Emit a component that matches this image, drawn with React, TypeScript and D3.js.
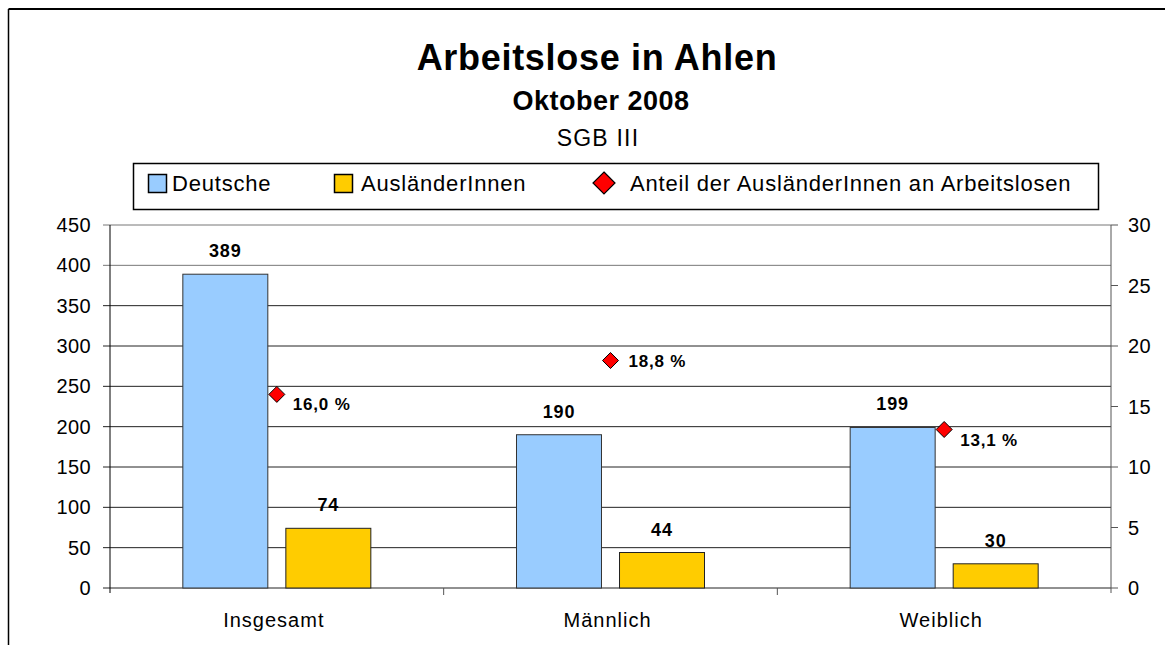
import React from "react";
import * as d3 from "d3";

const categories = ["Insgesamt", "Männlich", "Weiblich"];
const seriesNames = ["Deutsche", "AusländerInnen"];
const deutsche = [389, 190, 199];
const auslaender = [74, 44, 30];
const anteil = [16.0, 18.8, 13.1];
const leftTicks = [0, 50, 100, 150, 200, 250, 300, 350, 400, 450];
const rightTicks = [0, 5, 10, 15, 20, 25, 30];

// manual label nudges for the percentage labels (dx, dy)
const pctOffsets = [[16, 10], [18, 0], [16, 11]];

const W = 1165;
const H = 645;
const FONT = "'Liberation Sans', Arial, sans-serif";
const colors = ["#99CCFF", "#FFCC00"];

const App = () => {
  const plot = { left: 110, right: 1111, top: 225, bottom: 588 };

  const x0 = d3.scaleBand().domain(categories).range([plot.left, plot.right]);
  const x1 = d3
    .scaleBand()
    .domain(seriesNames)
    .range([0, x0.bandwidth()])
    .paddingInner(0.175)
    .paddingOuter(0.707);
  const yL = d3.scaleLinear().domain([0, 450]).range([plot.bottom, plot.top]);
  const yR = d3.scaleLinear().domain([0, 30]).range([plot.bottom, plot.top]);

  const series = [deutsche, auslaender];
  const fmtPct = (v) => d3.format(".1f")(v).replace(".", ",") + " %";

  const diamond = (cx, cy, r) =>
    `M${cx},${cy - r}L${cx + r},${cy}L${cx},${cy + r}L${cx - r},${cy}Z`;

  return (
    <svg
      width={W}
      height={H}
      style={{ position: "absolute", left: 0, top: 0, background: "#fff" }}
      fontFamily={FONT}
    >
      {/* outer chart frame */}
      <line x1={8.5} y1={9} x2={W} y2={9} stroke="#000" strokeWidth={2} />
      <line x1={8.5} y1={9} x2={8.5} y2={H} stroke="#000" strokeWidth={1.5} />

      {/* titles */}
      <text x={597} y={70} textAnchor="middle" fontSize={36} fontWeight="bold" letterSpacing={0.7}>
        Arbeitslose in Ahlen
      </text>
      <text x={601} y={110} textAnchor="middle" fontSize={27} fontWeight="bold" letterSpacing={0.5}>
        Oktober 2008
      </text>
      <text x={598} y={146} textAnchor="middle" fontSize={23} letterSpacing={1.2}>
        SGB III
      </text>

      {/* legend */}
      <rect x={133.5} y={163.5} width={965} height={46} fill="#fff" stroke="#000" strokeWidth={1.5} />
      <rect x={148.5} y={174.5} width={18} height={18} fill={colors[0]} stroke="#000" strokeWidth={1.5} />
      <text x={172} y={191} fontSize={22} letterSpacing={0.8}>Deutsche</text>
      <rect x={334.5} y={174.5} width={18} height={18} fill={colors[1]} stroke="#000" strokeWidth={1.5} />
      <text x={361} y={191} fontSize={22} letterSpacing={0.8}>AusländerInnen</text>
      <path d={diamond(604, 183, 11)} fill="#FF0000" stroke="#000" strokeWidth={1.2} />
      <text x={630} y={191} fontSize={22} letterSpacing={0.8}>Anteil der AusländerInnen an Arbeitslosen</text>

      {/* gridlines + left axis */}
      {leftTicks.map((t) => (
        <g key={"l" + t}>
          <line x1={plot.left - 7} x2={plot.right} y1={yL(t)} y2={yL(t)} stroke={t >= 400 ? "#777" : "#222"} strokeWidth={1} />
          <text x={91} y={yL(t) + 7} textAnchor="end" fontSize={20} letterSpacing={0.4}>
            {t}
          </text>
        </g>
      ))}
      <line x1={plot.left} x2={plot.left} y1={plot.top} y2={plot.bottom + 5} stroke="#000" />

      {/* right axis */}
      <line x1={plot.right} x2={plot.right} y1={plot.top} y2={plot.bottom + 5} stroke="#555" />
      {rightTicks.map((t) => (
        <g key={"r" + t}>
          <line x1={plot.right} x2={plot.right + 7} y1={yR(t)} y2={yR(t)} stroke="#555" />
          <text x={1128} y={yR(t) + 7} fontSize={20} letterSpacing={0.4}>
            {t}
          </text>
        </g>
      ))}

      {/* category ticks + labels */}
      {categories.map((c, i) => (
        <g key={c}>
          {i > 0 && (
            <line x1={x0(c)} x2={x0(c)} y1={plot.bottom} y2={plot.bottom + 7} stroke="#555" />
          )}
          <text x={x0(c) + x0.bandwidth() / 2 - 3} y={627} textAnchor="middle" fontSize={20} letterSpacing={1}>
            {c}
          </text>
        </g>
      ))}

      {/* bars */}
      {categories.map((c, i) =>
        seriesNames.map((s, j) => {
          const v = series[j][i];
          const bx = x0(c) + x1(s);
          return (
            <g key={c + s}>
              <rect
                x={bx}
                y={yL(v)}
                width={x1.bandwidth()}
                height={plot.bottom - yL(v)}
                fill={colors[j]}
                stroke={j === 0 ? "#333" : "#222"}
                strokeWidth={1}
              />
              <text
                x={bx + x1.bandwidth() / 2}
                y={yL(v) - 17}
                textAnchor="middle"
                fontSize={18}
                fontWeight="bold"
                letterSpacing={0.9}
              >
                {v}
              </text>
            </g>
          );
        })
      )}

      {/* share markers */}
      {categories.map((c, i) => {
        const cx = x0(c) + x0.bandwidth() / 2;
        const cy = yR(anteil[i]);
        return (
          <g key={"p" + c}>
            <path d={diamond(cx, cy, 8)} fill="#FF0000" stroke="#000" strokeWidth={1} />
            <text
              x={cx + pctOffsets[i][0]}
              y={cy + pctOffsets[i][1] + 6}
              fontSize={17}
              fontWeight="bold"
              letterSpacing={0.8}
            >
              {fmtPct(anteil[i])}
            </text>
          </g>
        );
      })}
    </svg>
  );
};

export default App;
